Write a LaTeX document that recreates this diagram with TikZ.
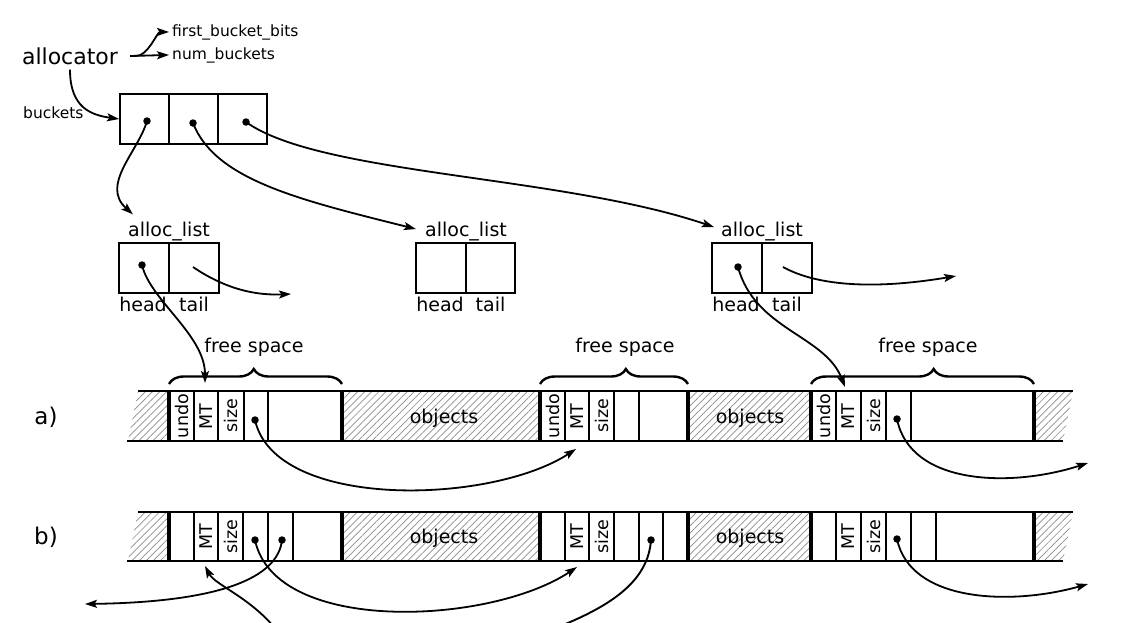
\documentclass[tikz,border=0pt]{standalone}
\usepackage{fontspec}
\setmainfont{DejaVu Sans}
\usetikzlibrary{arrows.meta,decorations.pathreplacing,patterns.meta,calc}
\begin{document}
\begin{tikzpicture}[x=1pt,y=-1pt,
  lw/.style={line width=1.9pt},
  cellbox/.style={draw,line width=1.9pt,minimum width=49.5pt,minimum height=50pt,inner sep=0pt},
  dotn/.style={circle,fill,inner sep=0pt,minimum size=7.5pt},
  arr/.style={line width=1.8pt,-{Stealth[length=12pt,width=8pt,inset=2.5pt]}},
  hatch/.style={pattern={Lines[angle=45,distance=5pt,line width=0.7pt]},pattern color=black!45},
  fbig/.style={font=\fontsize{22}{26}\selectfont,inner sep=0pt},
  fsmall/.style={font=\fontsize{15.5}{18}\selectfont,inner sep=0pt},
  fmid/.style={font=\fontsize{19}{22}\selectfont,inner sep=0pt},
  flab/.style={font=\fontsize{23}{26}\selectfont,inner sep=0pt},
  fcell/.style={font=\fontsize{17.5}{20}\selectfont,rotate=90,inner sep=0pt},
  thickv/.style={line width=3.5pt},
  thinv/.style={line width=1.5pt},
  bracestyle/.style={decorate,decoration={brace,amplitude=15pt,aspect=#1},line width=2.4pt}
]
\useasboundingbox (0,0) rectangle (1134,622);
\fill[white] (0,0) rectangle (1134,622);
\clip (0,0) rectangle (1134,622);

% ---------- allocator ----------
\node[fbig] (alloc) at (70,56) {allocator};
\node[fsmall,anchor=base west] (fbb) at (172,36) {first\_bucket\_bits};
\node[fsmall,anchor=base west] (nb) at (172,59) {num\_buckets};
\node[fsmall,anchor=base west] (bl) at (23,118) {buckets};
\draw[arr] ([xshift=12pt]alloc.east) -- ([xshift=-3pt]nb.west);
\draw[arr] ([xshift=18pt]alloc.east) .. controls +(12,0) and +(-12,0) .. ([xshift=-3pt]fbb.west);

% ---------- buckets ----------
\node[cellbox,minimum width=49pt] (b1) at (144.5,119) {};
\node[cellbox,minimum width=49pt] (b2) at (193.5,119) {};
\node[cellbox,minimum width=49pt] (b3) at (242.5,119) {};
\node[dotn] (d1) at (147,121) {};
\node[dotn] (d2) at (193,123) {};
\node[dotn] (d3) at (246,122) {};
\draw[arr] ([yshift=-5pt]alloc.south) .. controls +(0,38) and +(-28,-4) .. (b1.west);

% ---------- alloc lists ----------
\node[cellbox] (h1) at (144,268) {};
\node[cellbox] (t1) at (194,268) {};
\node[cellbox] (h2) at (441,268) {};
\node[cellbox] (t2) at (490.5,268) {};
\node[cellbox] (h3) at (737,268) {};
\node[cellbox] (t3) at (787,268) {};
\node[fmid,anchor=base] (al1) at (169,236) {alloc\_list};
\node[fmid,anchor=base] (al2) at (466,236) {alloc\_list};
\node[fmid,anchor=base] (al3) at (762,236) {alloc\_list};
\node[fmid,anchor=base] (hl1) at (143,311) {head};
\node[fmid,anchor=base] (tl1) at (194,311) {tail};
\node[fmid,anchor=base] (hl2) at (440,311) {head};
\node[fmid,anchor=base] (tl2) at (490.5,311) {tail};
\node[fmid,anchor=base] (hl3) at (736,311) {head};
\node[fmid,anchor=base] (tl3) at (787,311) {tail};
\node[dotn] (hd1) at (142,265) {};
\node[dotn] (hd3) at (738,267) {};
\coordinate (ts1) at (193,267);
\coordinate (ts3) at (783,267);
\coordinate (te1) at (291,294);
\coordinate (te3) at (956,276);

\draw[arr] (d1.center) .. controls (138,152) and (100,185) .. ($(al1.north west)+(5,-7)$);
\draw[arr] (d2.center) .. controls (215,180) and (300,200) .. ($(al2.west)+(-9,-2)$);
\draw[arr] (d3.center) .. controls (320,175) and (560,175) .. ($(al3.west)+(-7,-4)$);
\draw[arr] (ts1) .. controls (215,282) and (245,296) .. (te1);
\draw[arr] (ts3) .. controls (810,282) and (860,292) .. (te3);

% ---------- band a ----------
\fill[hatch] (138,391) -- (169,391) -- (169,441) -- (128,441) -- cycle;
\fill[hatch] (342,391) rectangle (540,441);
\fill[hatch] (688,391) rectangle (811,441);
\fill[hatch] (1034,391) -- (1073,391) -- (1063,441) -- (1034,441) -- cycle;
\draw[lw] (138,391) -- (1073,391);
\draw[lw] (127,441) -- (1063,441);
\foreach \x in {194,218,244,268,565,589,614,639,836,861,886,911}
  \draw[thinv] (\x,391) -- (\x,441);
\foreach \x in {169,342,540,688,811,1034}
  \draw[thickv] (\x,391) -- (\x,441);
\node[flab,anchor=base] (la) at (46,424) {a)};
\node[fcell] (au1) at (181.5,416) {undo};
\node[fcell] (am1) at (206,417) {MT};
\node[fcell] (as1) at (231,416) {size};
\node[fcell] (au2) at (552.5,416) {undo};
\node[fcell] (am2) at (577,417) {MT};
\node[fcell] (as2) at (601.5,416) {size};
\node[fcell] (au3) at (823.5,416) {undo};
\node[fcell] (am3) at (848.5,417) {MT};
\node[fcell] (as3) at (873.5,416) {size};
\node[fmid,anchor=base] (ao1) at (444,423) {objects};
\node[fmid,anchor=base] (ao2) at (750,423) {objects};
\node[dotn] (ad1) at (255,420) {};
\node[dotn] (ad3) at (897,419) {};

% braces
\draw[bracestyle=0.49] (169,384) -- (342,384);
\draw[bracestyle=0.58] (540,384) -- (688,384);
\draw[bracestyle=0.55] (811,384) -- (1034,384);
\node[fmid,anchor=base] (fs1) at (254,352) {free space};
\node[fmid,anchor=base] (fs2) at (625,352) {free space};
\node[fmid,anchor=base] (fs3) at (928,352) {free space};

\coordinate (aMT1top) at (205,383);
\coordinate (aMT3top) at (845,387);
\coordinate (aMT2) at (576,449);
\coordinate (aOut3) at (1088,463);
\draw[arr] (hd1.center) .. controls (150,300) and (205,335) .. (aMT1top);
\draw[arr] (hd3.center) .. controls (755,330) and (825,335) .. (aMT3top);
\draw[arr] (ad1.center) .. controls (275,510) and (490,505) .. (aMT2);
\draw[arr] (ad3.center) .. controls (910,485) and (1010,488) .. (aOut3);

% ---------- band b ----------
\fill[hatch] (138,512) -- (169,512) -- (169,561) -- (128,561) -- cycle;
\fill[hatch] (342,512) rectangle (540,561);
\fill[hatch] (688,512) rectangle (811,561);
\fill[hatch] (1034,512) -- (1073,512) -- (1063,561) -- (1034,561) -- cycle;
\draw[lw] (138,512) -- (1073,512);
\draw[lw] (127,561) -- (1063,561);
\foreach \x in {194,218,243,268,293,565,589,614,639,663,836,861,886,911,936}
  \draw[thinv] (\x,512) -- (\x,561);
\foreach \x in {169,342,540,688,811,1034}
  \draw[thickv] (\x,512) -- (\x,561);
\node[flab,anchor=base] (lb) at (46,544) {b)};
\node[fcell] (bm1) at (206,537) {MT};
\node[fcell] (bs1) at (230.5,537) {size};
\node[fcell] (bm2) at (577,537) {MT};
\node[fcell] (bs2) at (601.5,537) {size};
\node[fcell] (bm3) at (848.5,537) {MT};
\node[fcell] (bs3) at (873.5,537) {size};
\node[fmid,anchor=base] (bo1) at (444,543) {objects};
\node[fmid,anchor=base] (bo2) at (750,543) {objects};
\node[dotn] (bd1) at (255,540) {};
\node[dotn] (bd2) at (282,540) {};
\node[dotn] (bd5) at (651,540) {};
\node[dotn] (bd3) at (897,539) {};

\coordinate (bMT1) at (205,566);
\coordinate (bMT2) at (577,567);
\coordinate (bOut0) at (85,604);
\coordinate (bOut3) at (1088,584);
\coordinate (bLow1) at (278,632);
\coordinate (bLow2) at (545,632);
\draw[arr] (bd1.center) .. controls (275,635) and (490,625) .. (bMT2);
\draw[arr] (bd2.center) .. controls (278,578) and (220,602) .. (bOut0);
\draw[arr] (bLow1) .. controls (252,598) and (215,585) .. (bMT1);
\draw[lw] (bd5.center) .. controls (648,582) and (610,608) .. (bLow2);
\draw[arr] (bd3.center) .. controls (910,602) and (1010,606) .. (bOut3);
\end{tikzpicture}
\end{document}
